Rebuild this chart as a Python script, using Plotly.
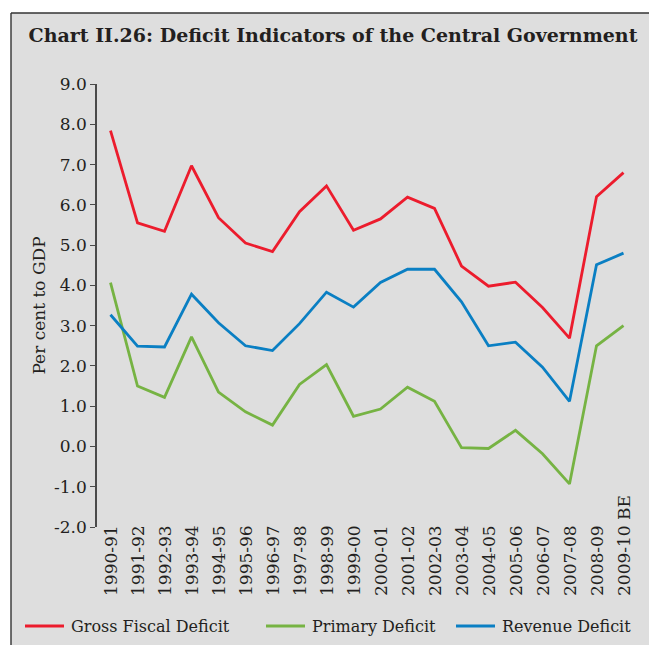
import plotly.graph_objects as go

# Fiscal years shown on the category axis
years = ["1990-91", "1991-92", "1992-93", "1993-94", "1994-95", "1995-96",
         "1996-97", "1997-98", "1998-99", "1999-00", "2000-01", "2001-02",
         "2002-03", "2003-04", "2004-05", "2005-06", "2006-07", "2007-08",
         "2008-09", "2009-10 BE"]

# Deficits as per cent of GDP
gross_fiscal_deficit = [7.84, 5.55, 5.34, 6.97, 5.68, 5.05, 4.84, 5.83, 6.47, 5.37,
                        5.65, 6.19, 5.91, 4.48, 3.98, 4.08, 3.45, 2.69, 6.20, 6.80]
primary_deficit = [4.07, 1.50, 1.22, 2.72, 1.35, 0.86, 0.53, 1.54, 2.03, 0.75,
                   0.93, 1.47, 1.12, -0.03, -0.05, 0.40, -0.18, -0.93, 2.50, 3.00]
revenue_deficit = [3.27, 2.49, 2.47, 3.78, 3.07, 2.50, 2.38, 3.05, 3.83, 3.46,
                   4.07, 4.40, 4.40, 3.59, 2.50, 2.59, 1.97, 1.12, 4.51, 4.80]

y_tick_values = [-2, -1, 0, 1, 2, 3, 4, 5, 6, 7, 8, 9]
y_tick_labels = ["-2.0", "-1.0", "0.0", "1.0", "2.0", "3.0", "4.0", "5.0",
                 "6.0", "7.0", "8.0", "9.0"]

FONT = "DejaVu Serif"
INK = "#231f20"
AXIS = "#4a4a4a"
BG = "#dedede"
FRAME = "#333333"

W, H = 649, 645
ML, MR, MT, MB = 97, 12, 84, 118
PW, PH = W - ML - MR, H - MT - MB


def px_x(p):
    return (p - ML) / PW


def px_y(p):
    return (H - MB - p) / PH


series = [
    ("Gross Fiscal Deficit", gross_fiscal_deficit, "#ec1c2d"),
    ("Primary Deficit", primary_deficit, "#76b343"),
    ("Revenue Deficit", revenue_deficit, "#0a7fc3"),
]

fig = go.Figure()
for name, vals, color in series:
    fig.add_trace(go.Scatter(x=years, y=vals, name=name, mode="lines",
                             line=dict(color=color, width=2.8),
                             showlegend=False))

# Rotated category labels, bottom-aligned below the plot
annotations = []
for yr in years:
    annotations.append(dict(x=yr, xref="x", y=px_y(598), yref="paper",
                            text=yr, textangle=-90, showarrow=False,
                            xanchor="center", yanchor="bottom",
                            font=dict(family=FONT, size=17, color=INK)))

# Grey panel with a frame on its left and top edges
shapes = [
    dict(type="rect", xref="paper", yref="paper", layer="below",
         x0=px_x(11), x1=px_x(W), y0=px_y(H), y1=px_y(13),
         fillcolor=BG, line=dict(width=0)),
    dict(type="line", xref="paper", yref="paper", layer="below",
         x0=px_x(11), x1=px_x(11), y0=px_y(H), y1=px_y(13),
         line=dict(color=FRAME, width=1.4)),
    dict(type="line", xref="paper", yref="paper", layer="below",
         x0=px_x(11), x1=px_x(W), y0=px_y(13), y1=px_y(13),
         line=dict(color=FRAME, width=1.4)),
]

# Legend row along the bottom: key line followed by the series name
legend_key_x = [25, 266, 456]
legend_key_len = 39
legend_row_y = 626
for (name, _, color), kx in zip(series, legend_key_x):
    shapes.append(dict(type="line", xref="paper", yref="paper",
                       x0=px_x(kx), x1=px_x(kx + legend_key_len),
                       y0=px_y(legend_row_y), y1=px_y(legend_row_y),
                       line=dict(color=color, width=3)))
    annotations.append(dict(x=px_x(kx + legend_key_len + 5), xref="paper",
                            y=px_y(legend_row_y), yref="paper",
                            text=name, showarrow=False,
                            xanchor="left", yanchor="middle",
                            font=dict(family=FONT, size=16, color=INK)))

fig.update_layout(
    width=W, height=H,
    margin=dict(l=ML, r=MR, t=MT, b=MB, pad=0),
    paper_bgcolor="white",
    plot_bgcolor=BG,
    font=dict(family=FONT, size=17, color=INK),
    title=dict(text="<b>Chart II.26: Deficit Indicators of the Central Government</b>",
               x=333 / W, xanchor="center", y=1 - 35 / H, yanchor="middle",
               font=dict(family=FONT, size=19, color=INK)),
    xaxis=dict(type="category", categoryorder="array", categoryarray=years,
               range=[-0.5, len(years) - 0.5], showline=False, ticks="",
               showticklabels=False, showgrid=False, zeroline=False),
    xaxis2=dict(type="category", categoryorder="array", categoryarray=years,
                matches="x", overlaying="x", anchor="free", position=2 / 11,
                showline=True, linecolor=AXIS, linewidth=1.6,
                ticks="outside", tickson="boundaries", ticklen=4,
                tickwidth=1.4, tickcolor=AXIS, showticklabels=False,
                showgrid=False, zeroline=False),
    yaxis=dict(range=[-2, 9], tickvals=y_tick_values, ticktext=y_tick_labels,
               showline=True, linecolor=AXIS, linewidth=1.6,
               ticks="outside", ticklen=5, tickwidth=1.4, tickcolor=AXIS,
               showgrid=False, zeroline=False,
               tickfont=dict(family=FONT, size=17, color=INK),
               title=dict(text="Per cent to GDP", standoff=4,
                          font=dict(family=FONT, size=17, color=INK))),
    showlegend=False,
    annotations=annotations,
    shapes=shapes,
)

fig.write_html("out.html")
